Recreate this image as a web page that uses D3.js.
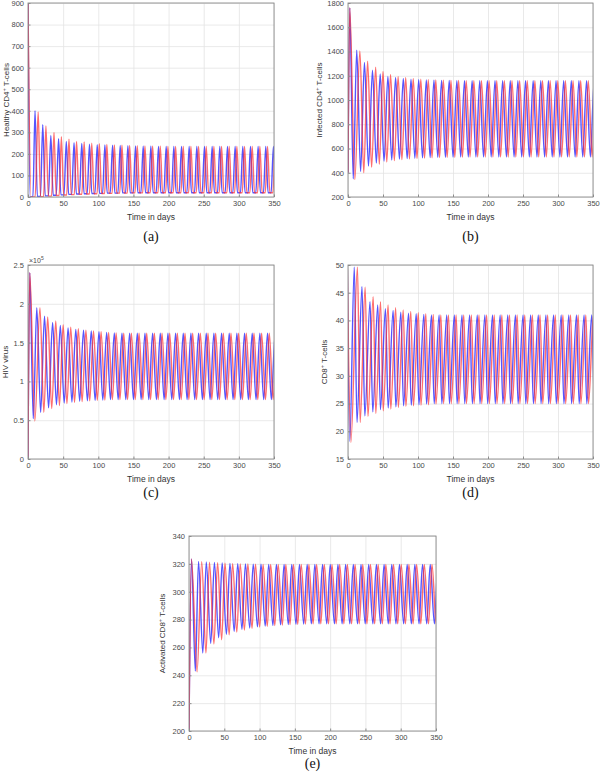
<!DOCTYPE html>
<html><head><meta charset="utf-8">
<script src="https://cdn.jsdelivr.net/npm/d3@7"></script>
<style>body{margin:0;background:#fff}svg{display:block}</style>
</head><body><svg id="chart" width="600" height="776"></svg>
<script>
// ---------- DATA ----------
const xTicks = [0, 50, 100, 150, 200, 250, 300, 350];

// days of each oscillation peak (reference phase), blue and red runs
const blueDays = [0,10,21,32.5,43.5,54.5,65.5,76.5,87.5,98.5,109.4,120.3,131.2,142.1,153,163.9,174.8,185.7,196.6,207.5,218.4,229.3,240.2,251.1,262,272.9,283.8,294.7,305.6,316.5,327.4,338.3,349.2,360.1];
const redDays  = [0,14.5,25.5,37,47.5,58.3,69.1,79.9,90.7,101.5,112.2,122.9,133.7,144.6,155.5,166.4,177.3,188.2,199.1,210,220.9,231.8,242.7,253.6,264.5,275.4,286.3,297.2,308.1,319,329.9,340.8,351.7,362.6];

// (a) Healthy CD4+ T-cells
const aTicks = [0,100,200,300,400,500,600,700,800,900];
const aBluePeak   = [900,400,335,285,270,258,252,248,245,243,241,240,239,238,237,236,236,235,235,235,235,235,235,235,235,235,235,235,235,235,235,235,235,235];
const aRedPeak    = [900,395,330,300,280,268,258,255,250,247,244,242,240,239,238,237,236,236,235,235,235,235,235,235,235,235,235,235,235,235,235,235,235,235];
const aBlueTrough = [0,2,5,8,10,12,14,15,16,17,18,18,19,19,20,20,20,20,20,20,20,20,20,20,20,20,20,20,20,20,20,20,20,20];
const aRedTrough  = [0,1,4,7,9,11,13,14,15,16,17,18,18,19,19,20,20,20,20,20,20,20,20,20,20,20,20,20,20,20,20,20,20,20];

// (b) Infected CD4+ T-cells
const bTicks = [200,400,600,800,1000,1200,1400,1600,1800];
const bBluePeak   = [1760,1410,1310,1245,1215,1195,1185,1178,1172,1168,1165,1163,1162,1161,1160,1160,1160,1160,1160,1160,1160,1160,1160,1160,1160,1160,1160,1160,1160,1160,1160,1160,1160,1160];
const bRedPeak    = [1760,1405,1320,1270,1235,1210,1195,1185,1178,1172,1168,1165,1163,1162,1161,1160,1160,1160,1160,1160,1160,1160,1160,1160,1160,1160,1160,1160,1160,1160,1160,1160,1160,1160];
const bBlueTrough = [350,410,455,480,495,505,512,517,520,523,525,527,528,529,530,530,530,530,530,530,530,530,530,530,530,530,530,530,530,530,530,530,530,530];
const bRedTrough  = [345,400,445,470,488,500,508,514,518,521,524,526,527,528,529,530,530,530,530,530,530,530,530,530,530,530,530,530,530,530,530,530,530,530];

// (c) HIV virus
const cTicks = [0,50000,100000,150000,200000,250000];
const cBluePeak   = [240000,195000,184000,176000,172000,169000,167000,166000,165000,164000,163000,162500,162000,162000,162000,162000,162000,162000,162000,162000,162000,162000,162000,162000,162000,162000,162000,162000,162000,162000,162000,162000,162000,162000];
const cRedPeak    = [240000,195000,183000,178000,173000,170000,168000,166000,165000,164000,163000,162500,162000,162000,162000,162000,162000,162000,162000,162000,162000,162000,162000,162000,162000,162000,162000,162000,162000,162000,162000,162000,162000,162000];
const cBlueTrough = [52000,60000,66000,70000,72000,73500,74500,75000,75500,76000,76500,76500,76500,76500,76500,76500,76500,76500,76500,76500,76500,76500,76500,76500,76500,76500,76500,76500,76500,76500,76500,76500,76500,76500];
const cRedTrough  = [49000,60000,65000,69000,71500,73000,74000,75000,75500,76000,76500,76500,76500,76500,76500,76500,76500,76500,76500,76500,76500,76500,76500,76500,76500,76500,76500,76500,76500,76500,76500,76500,76500,76500];

// (d) CD8+ T-cells
const dTicks = [15,20,25,30,35,40,45,50];
const dBluePeak   = [50,49.6,46.1,43.4,42.8,42.1,41.8,41.5,41.3,41.2,41.1,41,41,41,41,41,41,41,41,41,41,41,41,41,41,41,41,41,41,41,41,41,41,41];
const dRedPeak    = [50,49.6,46,44.3,43.4,42.8,42.3,41.9,41.6,41.4,41.2,41.1,41,41,41,41,41,41,41,41,41,41,41,41,41,41,41,41,41,41,41,41,41,41];
const dBlueTrough = [18.2,21.6,22.8,23.5,23.9,24.2,24.4,24.6,24.7,24.8,24.9,25,25,25,25,25,25,25,25,25,25,25,25,25,25,25,25,25,25,25,25,25,25,25];
const dRedTrough  = [18,21.6,22.7,23.2,23.7,24,24.3,24.5,24.6,24.7,24.8,24.9,25,25,25,25,25,25,25,25,25,25,25,25,25,25,25,25,25,25,25,25,25,25];

// (e) Activated CD8+ T-cells
const eTicks = [200,220,240,260,280,300,320,340];
const eBluePeak   = [323.5,321.8,321.3,321,320.6,320.3,320.1,320,319.8,319.7,319.6,319.5,319.5,319.5,319.5,319.5,319.5,319.5,319.5,319.5,319.5,319.5,319.5,319.5,319.5,319.5,319.5,319.5,319.5,319.5,319.5,319.5,319.5,319.5];
const eRedPeak    = [323.5,321.5,321.2,320.8,320.5,320.2,320,319.9,319.7,319.6,319.5,319.5,319.5,319.5,319.5,319.5,319.5,319.5,319.5,319.5,319.5,319.5,319.5,319.5,319.5,319.5,319.5,319.5,319.5,319.5,319.5,319.5,319.5,319.5];
const eBlueTrough = [243,256,263,267,269.5,271.5,273,274,274.8,275.4,275.8,276.2,276.5,276.7,276.8,277,277,277,277,277,277,277,277,277,277,277,277,277,277,277,277,277,277,277];
const eRedTrough  = [242.5,256,262.5,265.5,269,271,272.5,273.7,274.6,275.2,275.7,276.1,276.4,276.6,276.8,277,277,277,277,277,277,277,277,277,277,277,277,277,277,277,277,277,277,277];

// initial values at day 0 (null = first peak is the start)
const startValues = {a: null, b: 400, c: 0, d: null, e: 200};
// phase shift of each variable relative to reference peaks (days)
const phaseShift = {a: 0, b: 2.5, c: 2.5, d: -1, e: 3.5};

// ---------- LAYOUT ----------
const panels = [
  {key:'a', tag:'(a)', ylab:['Healthy CD4','+',' T-cells'], dom:[0,900], ticks:aTicks, fmt:d=>d,
   bp:aBluePeak, rp:aRedPeak, bt:aBlueTrough, rt:aRedTrough, shape:'spike', frac:0.5,
   x0:28, x1:274, y0:3, y1:197, ylx:19, tagDy:44},
  {key:'b', tag:'(b)', ylab:['Infected CD4','+',' T-cells'], dom:[200,1800], ticks:bTicks, fmt:d=>d,
   bp:bBluePeak, rp:bRedPeak, bt:bBlueTrough, rt:bRedTrough, shape:'wave', frac:0.5,
   x0:348, x1:593, y0:3, y1:197, ylx:26, tagDy:44},
  {key:'c', tag:'(c)', ylab:['HIV virus','',''], dom:[0,250000], ticks:cTicks, fmt:d=>d/1e5, exp:true,
   bp:cBluePeak, rp:cRedPeak, bt:cBlueTrough, rt:cRedTrough, shape:'wave', frac:0.5,
   x0:28, x1:274, y0:265, y1:459, ylx:20, tagDy:38},
  {key:'d', tag:'(d)', ylab:['CD8','+',' T-cells'], dom:[15,50], ticks:dTicks, fmt:d=>d,
   bp:dBluePeak, rp:dRedPeak, bt:dBlueTrough, rt:dRedTrough, shape:'wave', frac:0.35,
   x0:348, x1:593, y0:265, y1:459, ylx:21, tagDy:38},
  {key:'e', tag:'(e)', ylab:['Activated CD8','+',' T-cells'], dom:[200,340], ticks:eTicks, fmt:d=>d,
   bp:eBluePeak, rp:eRedPeak, bt:eBlueTrough, rt:eRedTrough, shape:'wave', frac:0.55,
   x0:189, x1:436, y0:536, y1:731, ylx:24, tagDy:37}
];

const svg = d3.select('#chart');
const FONT = 'Liberation Sans, Arial, sans-serif';

function buildSeries(days, peaks, troughs, shift, start, shape, frac) {
  const n = Math.min(days.length, peaks.length, troughs.length);
  const pts = [];
  if (start !== null) pts.push([0, start]);
  for (let k = 0; k < n; k++) {
    const t = days[k] + shift;
    pts.push([t, peaks[k]]);
    if (k < n - 1) {
      const t2 = days[k + 1] + shift;
      if (shape === 'spike') {
        const w = (t2 - t) * 0.3;
        pts.push([t + w, troughs[k]]);
        pts.push([t2 - w, troughs[k]]);
      } else {
        pts.push([t + frac * (t2 - t), troughs[k]]);
      }
    }
  }
  return pts;
}

panels.forEach((p) => {
  const x = d3.scaleLinear().domain([0, 350]).range([p.x0, p.x1]);
  const y = d3.scaleLinear().domain(p.dom).range([p.y1, p.y0]);
  const g = svg.append('g');
  const W = p.x1 - p.x0, H = p.y1 - p.y0;

  // grid
  g.append('g').attr('transform', `translate(0,${p.y1})`)
    .call(d3.axisBottom(x).tickValues(xTicks).tickSize(-H).tickFormat(''))
    .call(s => { s.select('.domain').remove(); s.selectAll('line').attr('stroke', '#e3e3e3').attr('stroke-width', 0.8); });
  g.append('g').attr('transform', `translate(${p.x0},0)`)
    .call(d3.axisLeft(y).tickValues(p.ticks).tickSize(-W).tickFormat(''))
    .call(s => { s.select('.domain').remove(); s.selectAll('line').attr('stroke', '#e3e3e3').attr('stroke-width', 0.8); });

  // clip
  const cid = 'clip' + p.key;
  svg.append('clipPath').attr('id', cid).append('rect')
    .attr('x', p.x0).attr('y', p.y0).attr('width', W).attr('height', H);

  const line = d3.line().x(d => x(d[0])).y(d => y(d[1])).curve(d3.curveMonotoneX);
  const start = startValues[p.key];
  const sh = phaseShift[p.key];
  const blue = buildSeries(blueDays, p.bp, p.bt, sh, start, p.shape, p.frac);
  const red = buildSeries(redDays, p.rp, p.rt, sh, start, p.shape, p.frac);
  const lg = g.append('g').attr('clip-path', `url(#${cid})`);
  lg.append('path').datum(blue).attr('d', line).attr('fill', 'none')
    .attr('stroke', '#2a2aff').attr('stroke-width', 1.4).attr('stroke-opacity', 0.8);
  lg.append('path').datum(red).attr('d', line).attr('fill', 'none')
    .attr('stroke', '#ff3030').attr('stroke-width', 1.4).attr('stroke-opacity', 0.7);

  // box
  g.append('rect').attr('x', p.x0).attr('y', p.y0).attr('width', W).attr('height', H)
    .attr('fill', 'none').attr('stroke', '#8c8c8c').attr('stroke-width', 0.9);

  // axes with inward ticks
  const ax = g.append('g').attr('transform', `translate(0,${p.y1})`)
    .call(d3.axisBottom(x).tickValues(xTicks).tickSizeInner(-2.5).tickSizeOuter(0).tickPadding(4));
  const ay = g.append('g').attr('transform', `translate(${p.x0},0)`)
    .call(d3.axisLeft(y).tickValues(p.ticks).tickFormat(p.fmt).tickSizeInner(-2.5).tickSizeOuter(0).tickPadding(4));
  [ax, ay].forEach(a => {
    a.select('.domain').remove();
    a.selectAll('line').attr('stroke', '#8c8c8c');
    a.selectAll('text').attr('font-family', FONT).attr('font-size', 7.5).attr('fill', '#4a4a4a');
  });

  // x label
  g.append('text').attr('x', (p.x0 + p.x1) / 2).attr('y', p.y1 + 23)
    .attr('text-anchor', 'middle').attr('font-family', FONT).attr('font-size', 8.5).attr('fill', '#333')
    .text('Time in days');

  // y label
  const yt = g.append('text')
    .attr('transform', `translate(${p.x0 - p.ylx},${(p.y0 + p.y1) / 2}) rotate(-90)`)
    .attr('text-anchor', 'middle').attr('font-family', FONT).attr('font-size', 8).attr('fill', '#333');
  yt.append('tspan').text(p.ylab[0]);
  if (p.ylab[1]) yt.append('tspan').attr('dy', -3).attr('font-size', 5.5).text(p.ylab[1]);
  if (p.ylab[2]) yt.append('tspan').attr('dy', p.ylab[1] ? 3 : 0).text(p.ylab[2]);

  if (p.exp) {
    const et = g.append('text').attr('x', p.x0 + 1).attr('y', p.y0 - 2)
      .attr('font-family', FONT).attr('font-size', 7).attr('fill', '#4a4a4a');
    et.append('tspan').text('\u00d710');
    et.append('tspan').attr('dy', -3).attr('font-size', 5).text('5');
  }

  // panel tag
  g.append('text').attr('x', (p.x0 + p.x1) / 2).attr('y', p.y1 + p.tagDy)
    .attr('text-anchor', 'middle').attr('font-family', 'Liberation Serif, Times New Roman, serif')
    .attr('font-size', 14).attr('fill', '#111').text(p.tag);
});
</script></body></html>
